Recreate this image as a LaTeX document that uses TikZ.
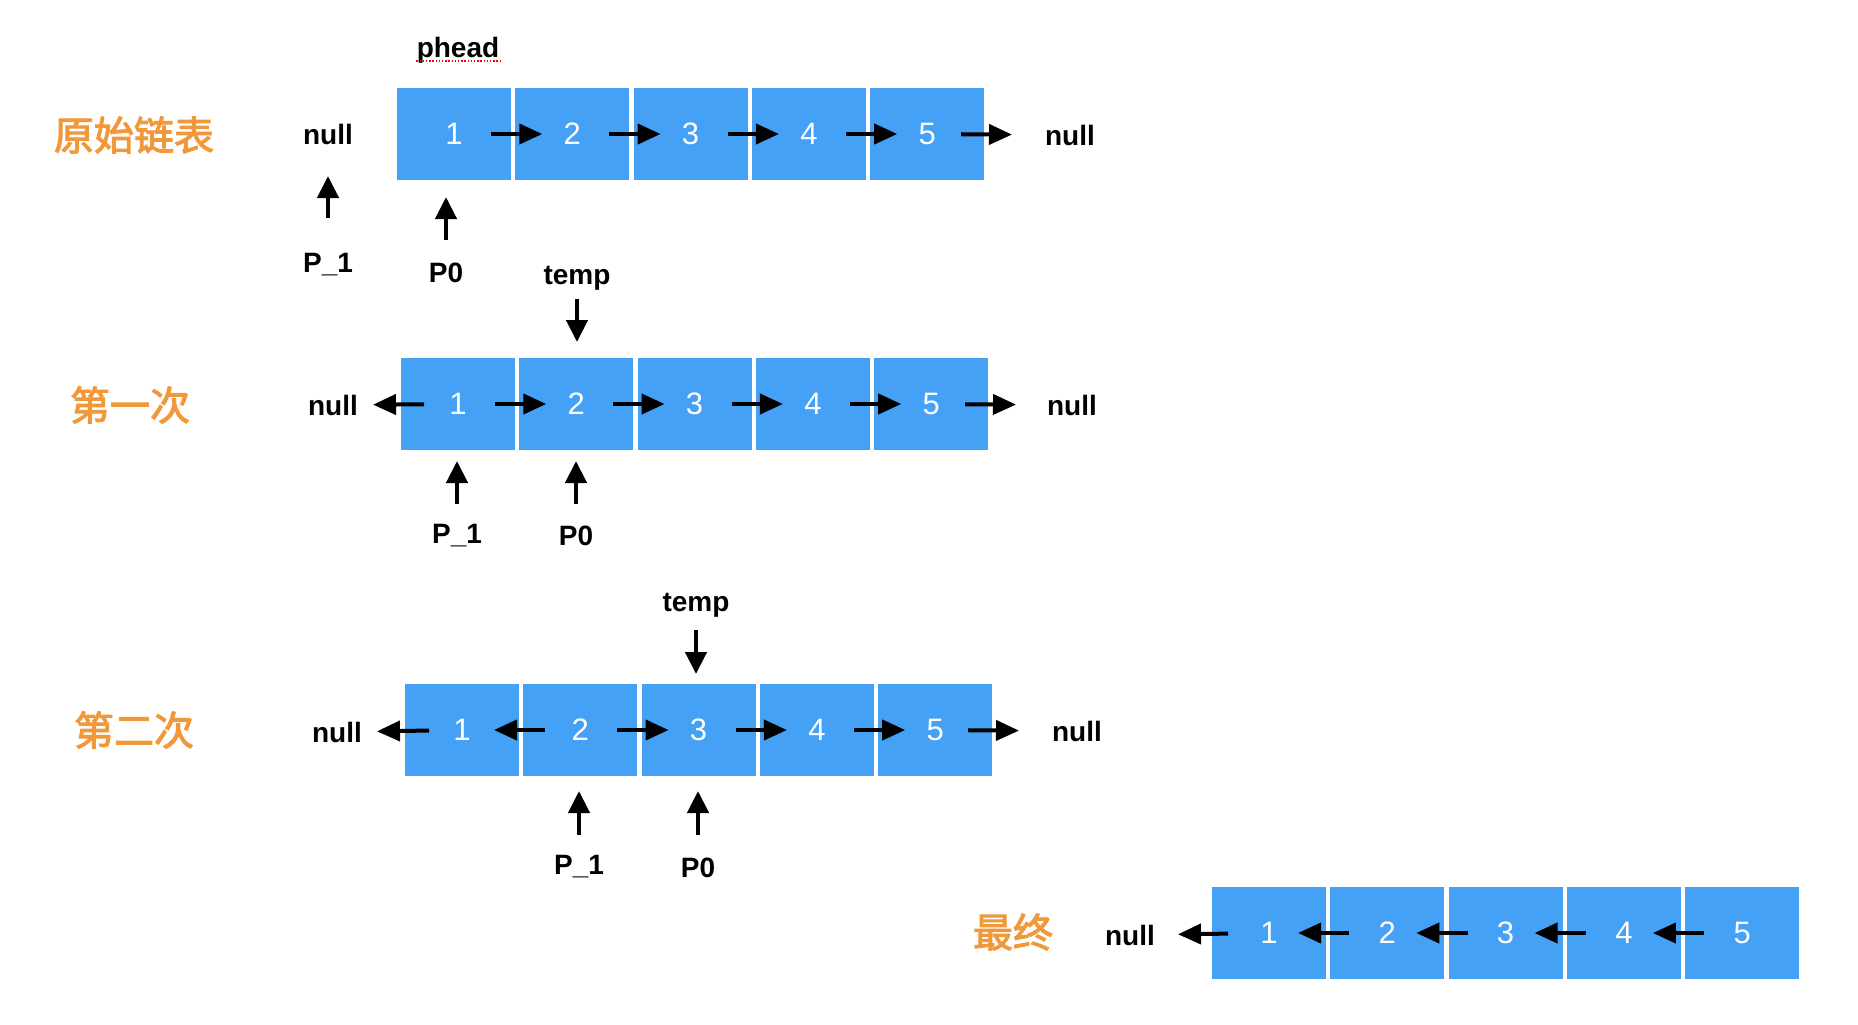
\documentclass[tikz,border=0pt]{standalone}
\usepackage{fontspec}
\setmainfont{Liberation Sans}
\newfontfamily\cjkfam[FakeBold=2.6]{Noto Sans CJK SC}
\usetikzlibrary{arrows.meta}
\definecolor{boxblue}{RGB}{68,161,246}
\definecolor{orng}{RGB}{241,152,58}
\tikzset{
  box/.style={fill=boxblue, minimum width=57pt, minimum height=46pt, inner sep=0pt, text=white, font=\fontsize{15.5}{18}\selectfont},
  lbl/.style={font=\bfseries\fontsize{14}{17}\selectfont, inner sep=0pt},
  cn/.style={font=\cjkfam\fontsize{20}{24}\selectfont, text=orng, inner sep=0pt},
  harr/.style={line width=2pt, -{Triangle[length=11.5pt,width=10pt]}},
  varr/.style={line width=2.2pt, -{Triangle[length=11pt,width=10.5pt]}},
}
\begin{document}
\begin{tikzpicture}[x=0.5pt,y=-0.5pt]
\useasboundingbox (0,0) rectangle (1858,1024);

% ---------------- Row 1 : original list ----------------
\node[cn] (t1) at (134,135) {原始链表};
\foreach \i in {1,...,5}
  \node[box] (r1b\i) at ({454+(\i-1)*118.3},134) {\i};
\node[lbl] (r1nl) at (328,134) {null};
\node[lbl] (r1nr) at (1070,135) {null};
\node[lbl] (phead) at (458,50) {phead};
\draw[red, line width=0.7pt, dash pattern=on 0.7pt off 0.9pt] ([yshift=1.2pt]phead.south west) -- ([yshift=1.2pt]phead.south east);
\foreach \i/\j in {1/2,2/3,3/4,4/5}
  \draw[harr, shorten <=18.5pt, shorten >=15pt] (r1b\i.center) -- (r1b\j.center);
\draw[harr, shorten <=17pt, shorten >=29pt] (r1b5.center) -- (r1nr.center);
\node[lbl] (r1p1) at (328,265) {P\_1};
\node[lbl] (r1p0) at (446,273) {P0};
\coordinate (r1p1t) at (328,176);
\coordinate (r1p0t) at (446,197);
\draw[varr, shorten <=23.5pt] (r1p1.center) -- (r1p1t);
\draw[varr, shorten <=16.5pt] (r1p0.center) -- (r1p0t);

% ---------------- Row 2 : first step ----------------
\node[cn] (t2) at (130,405) {第一次};
\foreach \i in {1,...,5}
  \node[box] (r2b\i) at ({458+(\i-1)*118.3},404) {\i};
\node[lbl] (r2nl) at (333,405) {null};
\node[lbl] (r2nr) at (1072,405) {null};
\draw[harr, shorten <=17pt, shorten >=20pt] (r2b1.center) -- (r2nl.center);
\foreach \i/\j in {1/2,2/3,3/4,4/5}
  \draw[harr, shorten <=18.5pt, shorten >=15pt] (r2b\i.center) -- (r2b\j.center);
\draw[harr, shorten <=17pt, shorten >=28pt] (r2b5.center) -- (r2nr.center);
\node[lbl] (r2tmp) at (577,278) {temp};
\coordinate (r2tmpt) at (577,342);
\draw[varr, shorten <=10.5pt] (r2tmp.center) -- (r2tmpt);
\node[lbl] (r2p1) at (457,536) {P\_1};
\node[lbl] (r2p0) at (576,536) {P0};
\coordinate (r2p1t) at (457,461);
\coordinate (r2p0t) at (576,461);
\draw[varr, shorten <=16pt] (r2p1.center) -- (r2p1t);
\draw[varr, shorten <=16pt] (r2p0.center) -- (r2p0t);

% ---------------- Row 3 : second step ----------------
\node[cn] (t3) at (134,730) {第二次};
\foreach \i in {1,...,5}
  \node[box] (r3b\i) at ({462+(\i-1)*118.3},730) {\i};
\node[lbl] (r3nl) at (337,732) {null};
\node[lbl] (r3nr) at (1077,731) {null};
\draw[harr, shorten <=16.5pt, shorten >=20pt] (r3b1.center) -- (r3nl.center);
\draw[harr, shorten <=17.5pt, shorten >=16pt] (r3b2.center) -- (r3b1.center);
\foreach \i/\j in {2/3,3/4,4/5}
  \draw[harr, shorten <=18.5pt, shorten >=15pt] (r3b\i.center) -- (r3b\j.center);
\draw[harr, shorten <=16.5pt, shorten >=29pt] (r3b5.center) -- (r3nr.center);
\node[lbl] (r3tmp) at (696,605) {temp};
\coordinate (r3tmpt) at (696,674);
\draw[varr, shorten <=12.5pt] (r3tmp.center) -- (r3tmpt);
\node[lbl] (r3p1) at (579,867) {P\_1};
\node[lbl] (r3p0) at (698,868) {P0};
\coordinate (r3p1t) at (579,791);
\coordinate (r3p0t) at (698,791);
\draw[varr, shorten <=16pt] (r3p1.center) -- (r3p1t);
\draw[varr, shorten <=16.5pt] (r3p0.center) -- (r3p0t);

% ---------------- Row 4 : final ----------------
\node[cn] (t4) at (1013,932) {最终};
\foreach \i in {1,...,5}
  \node[box] (r4b\i) at ({1269+(\i-1)*118.3},933) {\i};
\node[lbl] (r4nl) at (1130,935) {null};
\draw[harr, shorten <=20.5pt, shorten >=24pt] (r4b1.center) -- (r4nl.center);
\foreach \i/\j in {2/1,3/2,4/3,5/4}
  \draw[harr, shorten <=19pt, shorten >=14.5pt] (r4b\i.center) -- (r4b\j.center);
\end{tikzpicture}
\end{document}
